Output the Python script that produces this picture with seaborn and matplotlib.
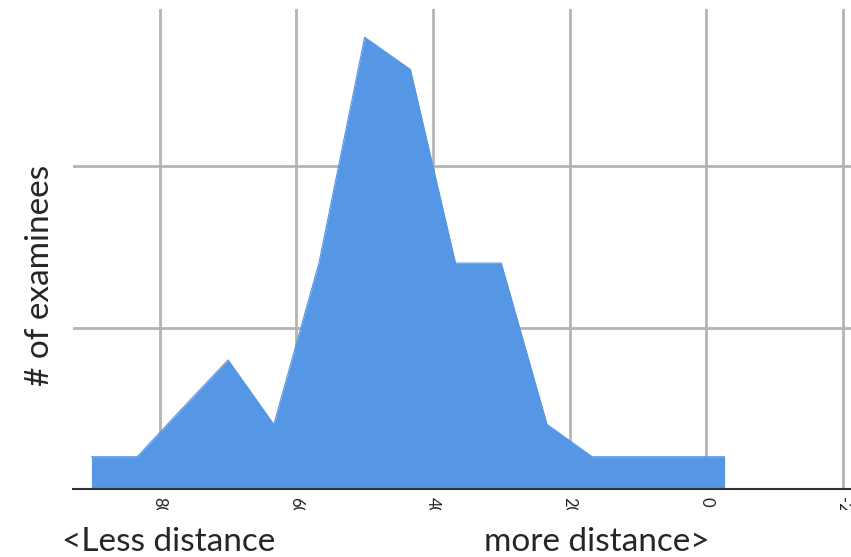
import numpy as np
import pandas as pd
import matplotlib
matplotlib.use("Agg")
import matplotlib.pyplot as plt
import seaborn as sns
from matplotlib.patches import Rectangle

# distance score (axis runs high -> low) and number of examinees
distance = [90, 83.3, 76.7, 70, 63.3, 56.7, 50, 43.3, 36.7, 30, 23.3, 16.7, 10, 3.3, -2.7]
examinees = [2, 2, 5, 8, 4, 14, 28, 26, 14, 14, 4, 2, 2, 2, 2]
xTicks = [80, 60, 40, 20, 0, -20]
xTickLabels = ["80", "60", "40", "20", "0", "-20"]
yTicks = [0, 10, 20]

sns.set_style("white")
plt.rcParams["font.family"] = ["Lato", "DejaVu Sans"]

data = pd.DataFrame({"distance": distance, "examinees": examinees})
fillColor = "#5596e5"

fig = plt.figure(figsize=(8.51, 5.57), dpi=100)
ax = fig.add_axes([73 / 851, 68 / 557, 1 - 73 / 851, (489 - 9) / 557])

ax.fill_between(data["distance"], data["examinees"], 0, color=fillColor, linewidth=0, zorder=2)
sns.lineplot(data=data, x="distance", y="examinees", color=fillColor, linewidth=0.8, ax=ax, zorder=3)

ax.set_xlim(92.7, -21.2)
ax.set_ylim(0, 29.75)
ax.set_xticks(xTicks)
ax.set_xticklabels(xTickLabels, rotation=-90, fontsize=12, va="top")
ax.set_yticks(yTicks)
ax.set_yticklabels([])
ax.tick_params(axis="both", length=0, pad=6)
ax.grid(True, color="#b4b4b4", linewidth=2, zorder=1)
ax.set_axisbelow(True)
ax.set_xlabel("")
ax.set_ylabel("")
for side in ["top", "right", "left"]:
    ax.spines[side].set_visible(False)
ax.spines["bottom"].set_color("#333333")
ax.spines["bottom"].set_linewidth(1.5)
ax.spines["bottom"].set_zorder(4)

# cut the rotated tick labels like in the source image
fig.patches.append(Rectangle((0, 0), 1, (557 - 510) / 557, transform=fig.transFigure,
                             facecolor="white", edgecolor="none", zorder=10))

fig.text(40 / 851, (557 - 275) / 557, "# of examinees", rotation=90, fontsize=24,
         ha="center", va="center", zorder=11)
fig.text(62 / 851, 6 / 557, "<Less distance", fontsize=24, ha="left", va="baseline", zorder=11)
fig.text(484 / 851, 6 / 557, "more distance>", fontsize=24, ha="left", va="baseline", zorder=11)

fig.savefig("out.png", dpi=100)
